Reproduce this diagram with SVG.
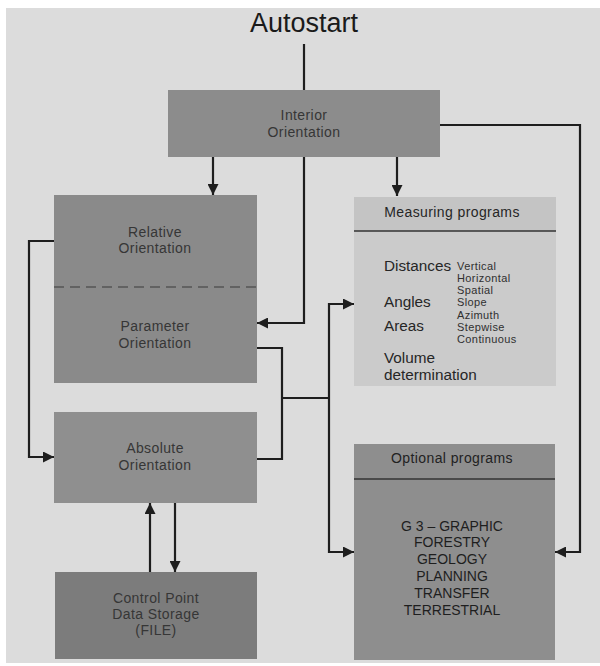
<svg xmlns="http://www.w3.org/2000/svg" width="600" height="666" viewBox="0 0 600 666">
<defs>
<marker id="ah" viewBox="0 0 10 10" refX="10" refY="5" markerWidth="11" markerHeight="11" markerUnits="userSpaceOnUse" orient="auto">
<path d="M0,0 L10,5 L0,10 z" fill="#1e1e1e"/>
</marker>
<style>
.box{stroke:none}
.lbl{font-family:"Liberation Sans",Arial,sans-serif;font-size:14px;fill:#363636;text-anchor:middle;letter-spacing:0.4px}
.big{font-family:"Liberation Sans",Arial,sans-serif;font-size:15.3px;fill:#262626}
.small{font-family:"Liberation Sans",Arial,sans-serif;font-size:11px;fill:#303030;letter-spacing:0.4px}
.caps{font-family:"Liberation Sans",Arial,sans-serif;font-size:14px;fill:#1e1e1e;text-anchor:middle}
.ln{fill:none;stroke:#1e1e1e;stroke-width:2.2}
.arr{fill:none;stroke:#1e1e1e;stroke-width:2.2;marker-end:url(#ah)}
</style>
</defs>
<rect x="0" y="0" width="600" height="666" fill="#ffffff"/>
<rect x="6" y="8" width="594" height="655" fill="#dcdcdc"/>
<text x="304" y="32" font-family="Liberation Sans,Arial,sans-serif" font-size="27" fill="#1a1a1a" text-anchor="middle">Autostart</text>

<g id="connectors">
<path class="ln" d="M304,44 V90"/>
<path class="arr" d="M213,157 V195"/>
<path class="arr" d="M397,157 V196"/>
<path class="arr" d="M304,157 V323 H257"/>
<path class="arr" d="M440,125 H580 V552 H555"/>
<path class="arr" d="M54,241 H29 V457 H54"/>
<path class="ln" d="M257,348 H282 V459 H257"/>
<path class="ln" d="M282,398 H329"/>
<path class="arr" d="M329,398 V304 H354"/>
<path class="arr" d="M329,398 V552 H354"/>
<path class="arr" d="M150,572 V503"/>
<path class="arr" d="M175,503 V572"/>
</g>

<g id="interior">
<rect class="box" x="168" y="90" width="272" height="67" fill="#8c8c8c"/>
<text class="lbl" x="304" y="120">Interior</text>
<text class="lbl" x="304" y="137">Orientation</text>
</g>

<g id="relative-parameter">
<rect class="box" x="54" y="195" width="203" height="188" fill="#8a8a8a"/>
<path d="M54,287 H257" stroke="#555" stroke-width="1.5" stroke-dasharray="10,6" fill="none"/>
<text class="lbl" x="155" y="237">Relative</text>
<text class="lbl" x="155" y="253">Orientation</text>
<text class="lbl" x="155" y="331">Parameter</text>
<text class="lbl" x="155" y="348">Orientation</text>
</g>

<g id="absolute">
<rect class="box" x="54" y="412" width="203" height="91" fill="#8f8f8f"/>
<text class="lbl" x="155" y="453">Absolute</text>
<text class="lbl" x="155" y="470">Orientation</text>
</g>

<g id="control-point">
<rect class="box" x="55" y="572" width="202" height="87" fill="#7c7c7c"/>
<text class="lbl" x="156" y="603">Control Point</text>
<text class="lbl" x="156" y="619">Data Storage</text>
<text class="lbl" x="156" y="635">(FILE)</text>
</g>

<g id="measuring">
<rect class="box" x="354" y="197" width="202" height="189" fill="#cbcbcb"/>
<rect class="box" x="354" y="197" width="202" height="34" fill="#c4c4c4"/>
<path d="M354,231 H556" stroke="#333" stroke-width="1.5"/>
<text class="lbl" x="452" y="217" style="fill:#262626">Measuring programs</text>
<text class="big" x="384" y="271">Distances</text>
<text class="big" x="384" y="307">Angles</text>
<text class="big" x="384" y="331">Areas</text>
<text class="big" x="384" y="363">Volume</text>
<text class="big" x="384" y="380">determination</text>
<text class="small" x="457" y="270">Vertical</text>
<text class="small" x="457" y="282">Horizontal</text>
<text class="small" x="457" y="294">Spatial</text>
<text class="small" x="457" y="306">Slope</text>
<text class="small" x="457" y="319">Azimuth</text>
<text class="small" x="457" y="331">Stepwise</text>
<text class="small" x="457" y="343">Continuous</text>
</g>

<g id="optional">
<rect class="box" x="354" y="444" width="201" height="216" fill="#8e8e8e"/>
<path d="M354,479 H555" stroke="#333" stroke-width="1.5"/>
<text class="lbl" x="452" y="463" style="fill:#222">Optional programs</text>
<text class="caps" x="452" y="531">G 3 – GRAPHIC</text>
<text class="caps" x="452" y="547">FORESTRY</text>
<text class="caps" x="452" y="564">GEOLOGY</text>
<text class="caps" x="452" y="581">PLANNING</text>
<text class="caps" x="452" y="598">TRANSFER</text>
<text class="caps" x="452" y="615">TERRESTRIAL</text>
</g>
</svg>
